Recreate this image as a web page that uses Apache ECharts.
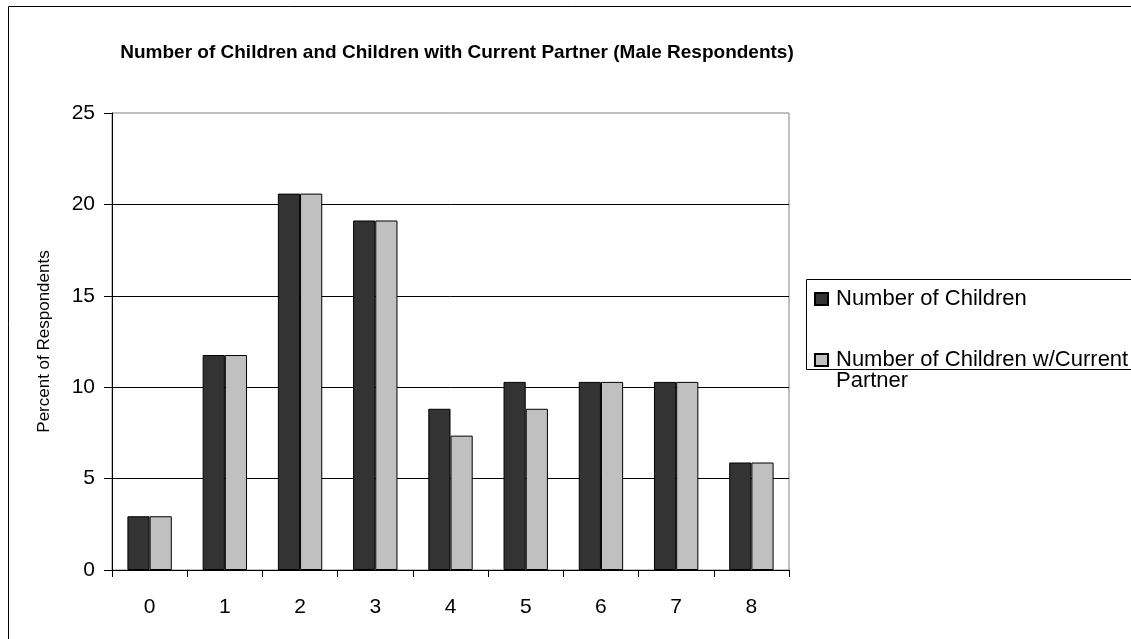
<!DOCTYPE html>
<html><head><meta charset="utf-8">
<script src="https://cdn.jsdelivr.net/npm/echarts@6/dist/echarts.min.js"></script>
<style>html,body{margin:0;padding:0;background:#fff}#c{width:1131px;height:639px}</style>
</head><body><div id="c"></div>
<script>
var categories = ['0','1','2','3','4','5','6','7','8'];
var numberOfChildren = [2.94, 11.76, 20.59, 19.12, 8.82, 10.29, 10.29, 10.29, 5.88];
var withCurrentPartner = [2.94, 11.76, 20.59, 19.12, 7.35, 8.82, 10.29, 10.29, 5.88];
var seriesNames = ['Number of Children', 'Number of Children w/Current Partner'];
var titleText = 'Number of Children and Children with Current Partner (Male Respondents)';
var yAxisName = 'Percent of Respondents';

var chart = echarts.init(document.getElementById('c'), null, {renderer:'canvas'});
var font = 'Liberation Sans, Arial, sans-serif';
chart.setOption({
  animation: false,
  backgroundColor: '#fff',
  textStyle: {fontFamily: font},
  title: {text: titleText, left: 452, textAlign: 'center', top: 38,
    textStyle: {fontSize: 19, fontWeight: 'bold', color: '#000', fontFamily: font}},
  graphic: [
    {type: 'rect', shape: {x: 8.5, y: 6.5, width: 1140, height: 640}, style: {fill: null, stroke: '#000', lineWidth: 1}, silent: true, z: -1},
    {type: 'rect', shape: {x: 806.5, y: 279.5, width: 340, height: 90}, style: {fill: '#fff', stroke: '#000', lineWidth: 1}, silent: true, z: 0}
  ],
  legend: [
    {data: [seriesNames[0]], orient: 'vertical', left: 814, top: 287, padding: 0, itemWidth: 13, itemHeight: 12, itemGap: 0,
      textStyle: {fontSize: 22, lineHeight: 24, color: '#000', fontFamily: font, padding: [0,0,0,3]}, icon: 'rect', z: 5},
    {data: [seriesNames[1]], orient: 'vertical', left: 814, top: 328, padding: 0, itemWidth: 13, itemHeight: 12, itemGap: 0,
      formatter: function(n){ return '\n' + n.replace(' Partner', '\nPartner'); },
      textStyle: {fontSize: 22, color: '#000', fontFamily: font, lineHeight: 21, padding: [0,0,0,3]}, icon: 'rect', z: 5}
  ],
  grid: {left: 112, top: 113, right: 342, bottom: 69, show: true, borderColor: '#808080', borderWidth: 1, containLabel: false},
  xAxis: {type: 'category', data: categories, boundaryGap: true,
    axisLine: {lineStyle: {color: '#000', width: 1}},
    axisTick: {show: true, alignWithLabel: false, length: 7, lineStyle: {color: '#000'}},
    axisLabel: {fontSize: 21, color: '#000', margin: 27, fontFamily: font}},
  yAxis: {type: 'value', min: 0, max: 25, interval: 5,
    name: yAxisName, nameLocation: 'middle', nameGap: 59, nameRotate: 90,
    nameTextStyle: {fontSize: 17, color: '#000', fontFamily: font},
    axisLine: {show: true, lineStyle: {color: '#000', width: 1}},
    axisTick: {show: true, length: 8, lineStyle: {color: '#000'}},
    axisLabel: {fontSize: 21, color: '#000', margin: 17, fontFamily: font},
    splitLine: {show: true, showMaxLine: false, lineStyle: {color: '#000', width: 1}}},
  series: [
    {name: seriesNames[0], type: 'bar', data: numberOfChildren, barGap: '0%', barCategoryGap: '41%',
      itemStyle: {color: '#333333', borderColor: '#000', borderWidth: 1}},
    {name: seriesNames[1], type: 'bar', data: withCurrentPartner,
      itemStyle: {color: '#c0c0c0', borderColor: '#000', borderWidth: 1}}
  ]
});
</script></body></html>
